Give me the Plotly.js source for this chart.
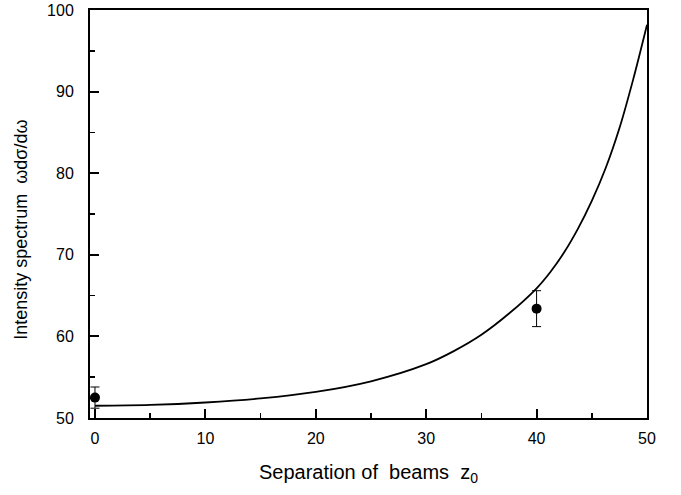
<!DOCTYPE html>
<html>
<head>
<meta charset="utf-8">
<script src="https://cdn.plot.ly/plotly-3.0.1.min.js"></script>
<style>html,body{margin:0;padding:0;background:#fff}#plot{width:681px;height:495px}</style>
</head>
<body>
<div id="plot"></div>
<script>
const curveX = [0, 5, 10, 15, 20, 25, 30, 32.5, 35, 37.5, 40, 41.25, 42.5, 43.75, 45, 46.25, 47.5, 48.75, 50];
const curveY = [51.5, 51.6, 51.9, 52.4, 53.2, 54.5, 56.6, 58.2, 60.2, 62.8, 65.9, 67.9, 70.3, 73.2, 76.6, 80.6, 85.5, 91.5, 98.2];
const dataX = [0, 40];
const dataY = [52.5, 63.4];
const dataErr = [1.3, 2.2];
const xTicks = [0, 10, 20, 30, 40, 50];
const yTicks = [50, 60, 70, 80, 90, 100];
const xTitle = 'Separation of&nbsp; beams&nbsp; z<sub>0</sub>';
const yTitle = 'Intensity spectrum&nbsp; ωdσ/dω';

const traces = [
  {x: curveX, y: curveY, mode: 'lines', line: {color: '#000', width: 1.8, shape: 'spline', smoothing: 1}, hoverinfo: 'skip'},
  {x: dataX, y: dataY, mode: 'markers', marker: {color: '#000', size: 10},
   error_y: {type: 'data', array: dataErr, visible: true, color: '#000', thickness: 1, width: 4.5}}
];

const axisCommon = {
  ticks: 'inside', ticklen: 9, tickwidth: 2, tickcolor: '#000',
  showline: true, linewidth: 2, linecolor: '#000', mirror: true,
  showgrid: false, zeroline: false,
  minor: {dtick: 5, tick0: 0, ticks: 'inside', ticklen: 5, tickwidth: 1.5, tickcolor: '#000', showgrid: false},
  tickfont: {size: 16}
};

const layout = {
  width: 681, height: 495,
  margin: {l: 90, r: 34, t: 10, b: 77},
  paper_bgcolor: '#fff', plot_bgcolor: '#fff',
  showlegend: false,
  font: {family: 'Liberation Sans, Arial, sans-serif', color: '#000', size: 16},
  xaxis: Object.assign({}, axisCommon, {range: [-0.45, 50], tickvals: xTicks, ticktext: xTicks.map(String), ticklabelstandoff: 5}),
  yaxis: Object.assign({}, axisCommon, {range: [50, 100], tickvals: yTicks, ticktext: yTicks.map(String), ticklabelstandoff: 11}),
  annotations: [
    {text: xTitle, xref: 'paper', yref: 'paper', x: 0.5, y: -0.137, xanchor: 'center', yanchor: 'middle', showarrow: false, font: {size: 20}},
    {text: yTitle, xref: 'paper', yref: 'paper', x: -0.124, y: 0.461, xanchor: 'center', yanchor: 'middle', textangle: -90, showarrow: false, font: {size: 18}}
  ]
};

Plotly.newPlot('plot', traces, layout, {displayModeBar: false, staticPlot: true});
</script>
</body>
</html>
